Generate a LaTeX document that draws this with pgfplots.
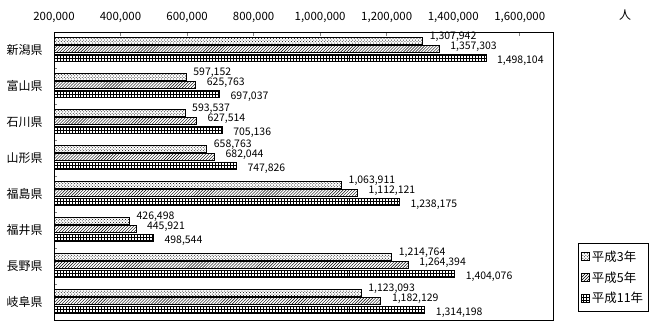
\documentclass[border=0pt]{standalone}
\usepackage{pgfplots}
\pgfplotsset{compat=1.18}
\usepackage{pgfplotstable}
\usetikzlibrary{patterns}
\usepackage{fontspec}
\setmainfont{Noto Sans CJK JP}

\pgfplotstableread{
c v l
0 1307942 1,307,942
1 597152 597,152
2 593537 593,537
3 658763 658,763
4 1063911 1,063,911
5 426498 426,498
6 1214764 1,214,764
7 1123093 1,123,093
}\tA
\pgfplotstableread{
c v l
0 1357303 1,357,303
1 625763 625,763
2 627514 627,514
3 682044 682,044
4 1112121 1,112,121
5 445921 445,921
6 1264394 1,264,394
7 1182129 1,182,129
}\tB
\pgfplotstableread{
c v l
0 1498104 1,498,104
1 697037 697,037
2 705136 705,136
3 747826 747,826
4 1238175 1,238,175
5 498544 498,544
6 1404076 1,404,076
7 1314198 1,314,198
}\tC

\begin{document}
\begin{tikzpicture}
\useasboundingbox (0,0) rectangle (660bp,330bp);
\begin{axis}[
  at={(54bp,10bp)}, anchor=south west,
  scale only axis, width=499bp, height=288bp,
  xbar, bar width=7bp,
  xmin=200000, xmax=1700000,
  ymin=-0.5, ymax=7.5, y dir=reverse,
  scaled x ticks=false,
  xtick={200000,400000,600000,800000,1000000,1200000,1400000,1600000},
  xticklabels={{200,000},{400,000},{600,000},{800,000},{1,000,000},{1,200,000},{1,400,000},{1,600,000}},
  xtick pos=right, xticklabel pos=right,
  xticklabel style={font=\fontsize{11.5}{13}\selectfont, yshift=7bp, text height=8bp, text depth=1bp},
  ytick={0,...,7},
  yticklabels={新潟県,富山県,石川県,山形県,福島県,福井県,長野県,岐阜県},
  ytick pos=left,
  yticklabel style={font=\fontsize{12}{14}\selectfont, xshift=-8bp},
  minor ytick={0.5,1.5,...,6.5},
  tick align=inside,
  major x tick style={line width=0.8bp},
  major tick length=4bp,
  major y tick style={draw=none},
  minor tick length=3bp,
  minor tick style={line width=0.8bp},
  axis line style={line width=0.8bp},
  nodes near coords,
  point meta=explicit symbolic,
  nodes near coords style={font=\fontsize{10.5}{12}\selectfont, anchor=west, inner sep=0pt},
  legend style={at={(1.05,0.267)}, anchor=north west, draw=black, line width=0.8bp,
    font=\fontsize{12.5}{14}\selectfont, row sep=5bp, inner xsep=3bp, inner ysep=5bp},
  legend cell align=left,
  legend image code/.code={\draw[#1, line width=0.6bp] (0bp,-4bp) rectangle (8bp,4bp);},
]
\addplot[draw=black, line width=0.6bp, pattern=crosshatch dots, bar shift=9.5bp,
  nodes near coords style={xshift=7bp, yshift=4bp}]
  table[x=v, y=c, meta=l] {\tA};
\addplot[draw=black, line width=0.6bp, pattern=north east lines, bar shift=1.5bp,
  nodes near coords style={xshift=11bp, yshift=2bp}]
  table[x=v, y=c, meta=l] {\tB};
\addplot[draw=black, line width=0.6bp, pattern=grid, bar shift=-7.5bp,
  nodes near coords style={xshift=11bp, yshift=-3bp}]
  table[x=v, y=c, meta=l] {\tC};
\legend{平成3年,平成5年,平成11年}
\end{axis}
\node[font=\fontsize{12}{14}\selectfont] at (625bp,315bp) {人};
\end{tikzpicture}
\end{document}
